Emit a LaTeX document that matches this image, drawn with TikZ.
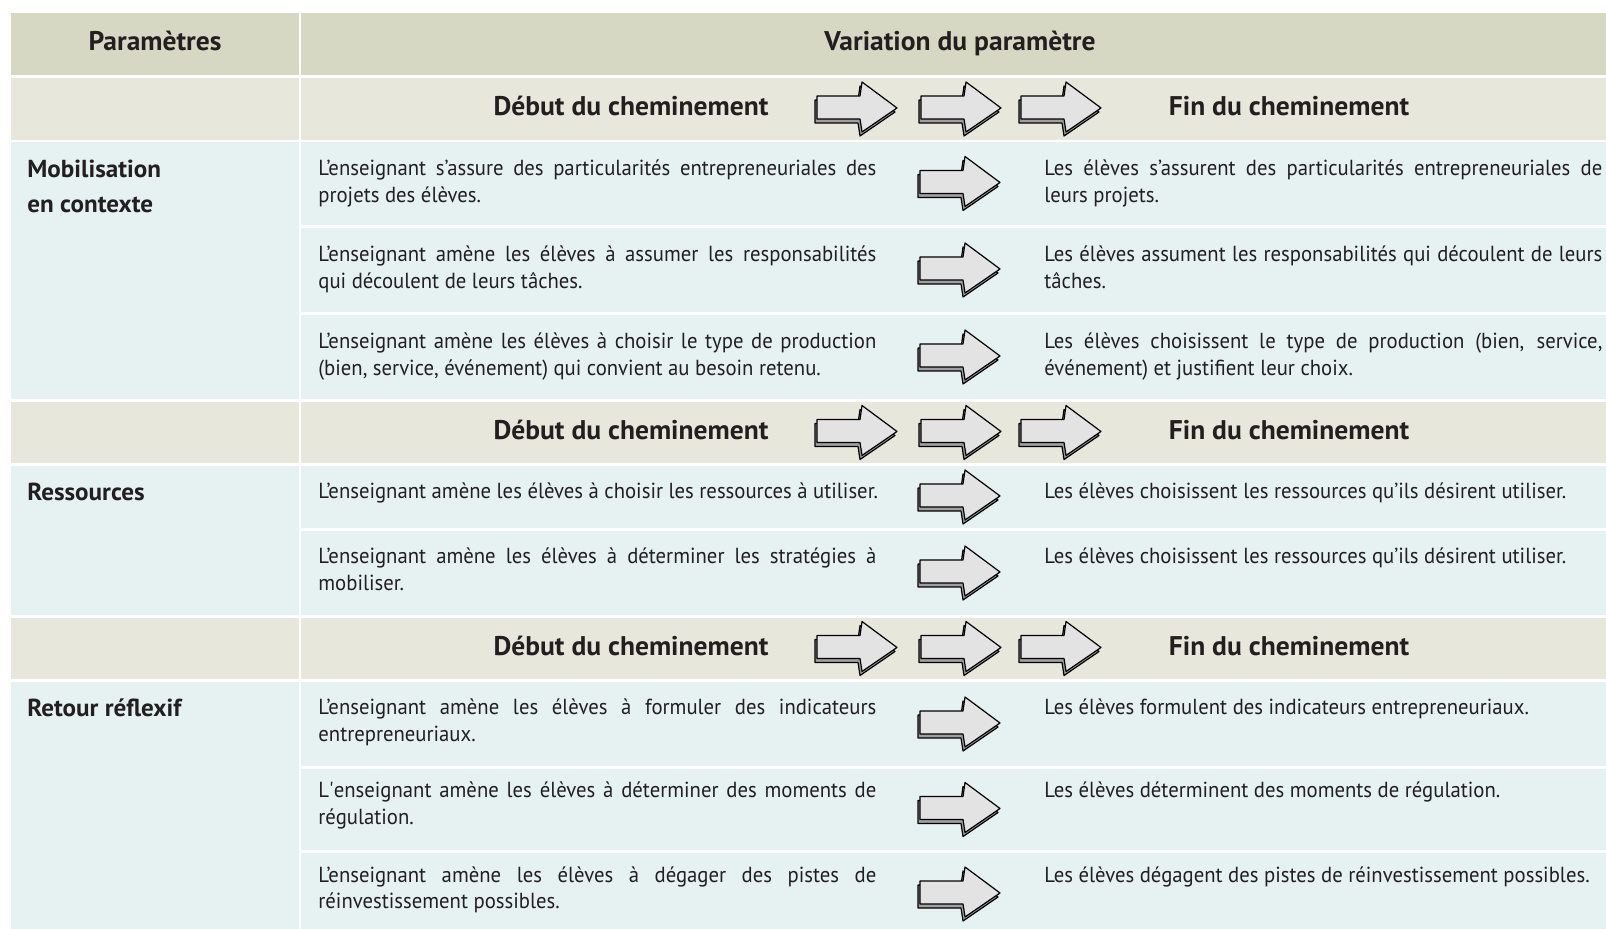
\documentclass[tikz,border=0pt]{standalone}
\usepackage{fontspec}
\setmainfont{PT Sans}[FakeStretch=0.95, BoldFeatures={FakeStretch=1.02}]
\usepackage{xcolor}
\definecolor{entete}{RGB}{214,216,196}
\definecolor{etape}{RGB}{231,231,220}
\definecolor{corps}{RGB}{230,242,242}
\definecolor{encre}{RGB}{35,31,32}
\hyphenpenalty=10000
\exhyphenpenalty=10000

\begin{document}
\begin{tikzpicture}[x=0.5pt, y=-0.5pt,
    titre/.style={font=\bfseries\fontsize{13.5}{16}\selectfont, text=encre, inner sep=0pt, anchor=base},
    param/.style={font=\bfseries\fontsize{12.3}{17.5}\selectfont, text=encre, inner sep=0pt, anchor=base west, text width=130pt, align=flush left},
    texte/.style={font=\fontsize{10.9}{13.3}\selectfont, text=encre, inner sep=0pt, anchor=base west, text width=279pt, align=justify},
    ligne/.style={font=\fontsize{10.9}{13.3}\selectfont, text=encre, inner sep=0pt, anchor=base west},
    fleche/.pic={
      \filldraw[fill=gray!75, draw=black, line width=0.6pt, line join=round, shift={(-2,4)}]
        (-40,-13) -- (3,-13) -- (5,-27) -- (40,-1) -- (5,23) -- (3,10) -- (-40,10) -- cycle;
      \filldraw[fill=gray!22, draw=black, line width=0.6pt, line join=round]
        (-40,-13) -- (3,-13) -- (5,-27) -- (40,-1) -- (5,23) -- (3,10) -- (-40,10) -- cycle;
    }]
  \useasboundingbox (0,0) rectangle (1606,929);
  \fill[white] (0,0) rectangle (1606,929);

  % fonds
  \fill[entete] (11,13) rectangle (299,75);
  \fill[entete] (301,13) rectangle (1606,75);
  \fill[etape] (11,78) rectangle (299,140);
  \fill[etape] (301,78) rectangle (1606,140);
  \fill[corps] (11,142) rectangle (299,399);
  \fill[corps] (301,142) rectangle (1606,225);
  \fill[corps] (301,228) rectangle (1606,312);
  \fill[corps] (301,315) rectangle (1606,399);
  \fill[etape] (11,402) rectangle (299,463);
  \fill[etape] (301,402) rectangle (1606,463);
  \fill[corps] (11,466) rectangle (299,615);
  \fill[corps] (301,466) rectangle (1606,528);
  \fill[corps] (301,531) rectangle (1606,615);
  \fill[etape] (11,618) rectangle (299,679);
  \fill[etape] (301,618) rectangle (1606,679);
  \fill[corps] (11,682) rectangle (299,929);
  \fill[corps] (301,682) rectangle (1606,766);
  \fill[corps] (301,769) rectangle (1606,850);
  \fill[corps] (301,853) rectangle (1606,929);

  % en-tetes
  \node[titre] (parametres) at (155,51) {Paramètres};
  \node[titre] (variation) at (960,51) {Variation du paramètre};
  \node[titre] (debut1) at (631,116) {Début du cheminement};
  \node[titre] (fin1) at (1289,116) {Fin du cheminement};
  \node[titre] (debut2) at (631,440) {Début du cheminement};
  \node[titre] (fin2) at (1289,440) {Fin du cheminement};
  \node[titre] (debut3) at (631,656) {Début du cheminement};
  \node[titre] (fin3) at (1289,656) {Fin du cheminement};

  \pic at (857,109) {fleche};
  \pic at (961,109) {fleche};
  \pic at (1061,109) {fleche};
  \pic at (857,432.5) {fleche};
  \pic at (961,432.5) {fleche};
  \pic at (1061,432.5) {fleche};
  \pic at (857,648.5) {fleche};
  \pic at (961,648.5) {fleche};
  \pic at (1061,648.5) {fleche};

  % mobilisation en contexte
  \node[param] (mobilisation) at (27,178) {Mobilisation\\en contexte};
  \node[texte] (ens1) at (318,176) {L’enseignant s’assure des particularités entrepreneuriales des\linebreak projets des élèves.};
  \node[texte] (elv1) at (1044,176) {Les élèves s’assurent des particularités entrepreneuriales de\linebreak leurs projets.};
  \node[texte] (ens2) at (318,262) {L’enseignant amène les élèves à assumer les responsabilités\linebreak qui découlent de leurs tâches.};
  \node[texte] (elv2) at (1044,262) {Les élèves assument les responsabilités qui découlent de leurs\linebreak tâches.};
  \node[texte] (ens3) at (318,349) {L’enseignant amène les élèves à choisir le type de production\linebreak (bien, service, événement) qui convient au besoin retenu.};
  \node[texte] (elv3) at (1044,349) {Les élèves choisissent le type de production (bien, service,\linebreak événement) et justifient leur choix.};
  \pic at (960,183.5) {fleche};
  \pic at (960,270) {fleche};
  \pic at (960,357) {fleche};

  % ressources
  \node[param] (ressources) at (27,501) {Ressources};
  \node[ligne] (ens4) at (318,499) {L’enseignant amène les élèves à choisir les ressources à utiliser.};
  \node[ligne] (elv4) at (1044,499) {Les élèves choisissent les ressources qu’ils désirent utiliser.};
  \node[texte] (ens5) at (318,564) {L’enseignant amène les élèves à déterminer les stratégies à\linebreak mobiliser.};
  \node[ligne] (elv5) at (1044,564) {Les élèves choisissent les ressources qu’ils désirent utiliser.};
  \pic at (960,497) {fleche};
  \pic at (960,573) {fleche};

  % retour reflexif
  \node[param] (retour) at (27,717) {Retour réflexif};
  \node[texte] (ens6) at (318,715) {L’enseignant amène les élèves à formuler des indicateurs\linebreak entrepreneuriaux.};
  \node[ligne] (elv6) at (1044,715) {Les élèves formulent des indicateurs entrepreneuriaux.};
  \node[texte] (ens7) at (318,798) {L\textquotesingle enseignant amène les élèves à déterminer des moments de\linebreak régulation.};
  \node[ligne] (elv7) at (1044,798) {Les élèves déterminent des moments de régulation.};
  \node[texte] (ens8) at (318,882) {L’enseignant amène les élèves à dégager des pistes de\linebreak réinvestissement possibles.};
  \node[ligne] (elv8) at (1044,882) {Les élèves dégagent des pistes de réinvestissement possibles.};
  \pic at (960,724) {fleche};
  \pic at (960,809.5) {fleche};
  \pic at (960,894) {fleche};
\end{tikzpicture}
\end{document}
